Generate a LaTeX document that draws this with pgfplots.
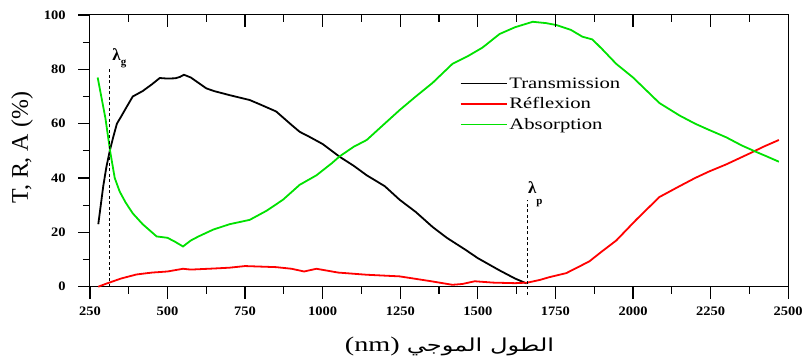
\documentclass[border=0pt]{standalone}
\usepackage{pgfplots}
\pgfplotsset{compat=1.18}
\usepackage{fontspec}
\setmainfont{Liberation Serif}
\newfontfamily\arabicfont[Script=Arabic]{DejaVu Sans}
\definecolor{mygreen}{RGB}{0,225,0}
\definecolor{myred}{RGB}{255,0,0}
\newcommand{\ticklab}[1]{\scalebox{1.12}[1]{\fontsize{13}{14}\selectfont\bfseries\pgfmathprintnumber[assume math mode=true,1000 sep={}]{#1}}}
\begin{document}
\begin{tikzpicture}
\begin{axis}[
  scale only axis, width=699bp, height=272bp,
  xmin=250, xmax=2500, ymin=0, ymax=100,
  xtick={250,500,...,2500}, ytick={0,20,...,100},
  minor x tick num=1, minor y tick num=1,
  tick pos=left, tick align=outside,
  major tick length=0.42cm, minor tick length=0.25cm,
  axis line style={line width=1bp},
  xtick style={draw=black, line width=1bp},
  ytick style={draw=black, line width=1bp},
  xticklabel={\ticklab{\tick}},
  yticklabel={\ticklab{\tick}},
  xticklabel style={yshift=-5bp},
  yticklabel style={xshift=-9bp},
  clip=false,
  xlabel={\scalebox{1.35}[1]{\fontsize{21}{22}\selectfont (nm) {\TeXXeTstate=1 \arabicfont\fontsize{18}{22}\selectfont\beginR الطول الموجي\endR}}},
  every axis x label/.style={at={(rel axis cs:0.515,-0.22)}, anchor=center},
  ylabel={\fontsize{24}{26}\selectfont T, R, A (\%)},
  every axis y label/.style={at={(rel axis cs:-0.097,0.511)}, anchor=center, rotate=90},
  legend style={at={(rel axis cs:0.525,0.785)}, anchor=north west, draw=none, fill=none,
    font=\fontsize{16}{16}\selectfont, row sep=4bp, cells={anchor=west}},
  legend image code/.code={\draw[#1] (0bp,0bp) -- (46bp,0bp);},
]
\addplot[black, line width=1.8bp] coordinates {
(277,23) (285,30) (293,37) (303,44) (314,50) (325,55) (337,60) (350,62.5) (365,65.5) (388,70)
(420,72) (450,74.5) (475,76.8) (500,76.6) (525,76.7) (540,77.2) (553,78) (575,77) (600,75)
(625,73) (650,72) (700,70.5) (765,68.7) (800,67) (850,64.5) (900,59.5) (926,57)
(960,55) (1000,52.5) (1055,47.8) (1100,44.5) (1142,41) (1200,37) (1248,32) (1300,27.5)
(1354,22) (1400,18) (1460,13.6) (1500,10.5) (1570,6) (1620,3) (1657,1.2)
};
\addlegendentry{\scalebox{1.3}[1]{Transmission}}
\addplot[myred, line width=1.8bp] coordinates {
(277,0) (300,1) (350,3) (400,4.5) (450,5.2) (500,5.6) (550,6.6) (575,6.3) (650,6.7) (700,7)
(750,7.6) (800,7.4) (850,7.2) (900,6.6) (940,5.6) (980,6.6) (1000,6.2) (1050,5.2)
(1142,4.4) (1248,3.8) (1350,2) (1418,0.7) (1450,1) (1490,2) (1550,1.5) (1620,1.3)
(1660,1.5) (1700,2.5) (1730,3.5) (1785,5) (1859,9.3) (1900,13) (1946,17) (2010,24.6)
(2085,33) (2150,37) (2200,40) (2245,42.4) (2300,45) (2375,49) (2420,51.5) (2470,54)
};
\addlegendentry{\scalebox{1.3}[1]{Réflexion}}
\addplot[mygreen, line width=1.8bp] coordinates {
(275,77) (290,68) (300,62) (315,50) (330,40) (346,35) (365,31) (388,27) (420,23)
(465,18.5) (500,18) (525,16.5) (550,14.8) (575,17) (600,18.5) (647,21) (700,23)
(765,24.6) (820,28) (872,32) (926,37.5) (980,41) (1030,45.5) (1055,48) (1100,51.5)
(1142,54) (1190,59) (1248,65) (1300,70) (1354,75) (1418,82) (1470,85) (1515,88)
(1570,93) (1620,95.5) (1677,97.5) (1720,97) (1753,96.3) (1800,94.5) (1837,92) (1869,91)
(1900,87.5) (1946,82) (2000,77) (2085,67.6) (2150,63) (2200,60) (2245,57.7) (2300,55)
(2350,52) (2397,49.6) (2430,48) (2470,46)
};
\addlegendentry{\scalebox{1.3}[1]{Absorption}}
\addplot[black, line width=1bp, dash pattern=on 3bp off 2.5bp, forget plot] coordinates {(312,0) (312,80)};
\addplot[black, line width=1bp, dash pattern=on 3bp off 2.5bp, forget plot] coordinates {(1660,-3) (1660,32)};
% tick marks, one segment each
\pgfplotsinvokeforeach{250,500,...,2500}{\addplot[black, line width=1.2bp, forget plot] coordinates {(#1,0) (#1,-4.41)};}
\pgfplotsinvokeforeach{375,625,...,2375}{\addplot[black, line width=1.2bp, forget plot] coordinates {(#1,0) (#1,-2.6)};}
\pgfplotsinvokeforeach{500,750,...,2250}{\addplot[black, line width=1.2bp, forget plot] coordinates {(#1,100) (#1,95.6)};}
\pgfplotsinvokeforeach{375,625,...,2375}{\addplot[black, line width=1.2bp, forget plot] coordinates {(#1,100) (#1,97.4)};}
\pgfplotsinvokeforeach{0,20,...,100}{\addplot[black, line width=1.2bp, forget plot] coordinates {(250,#1) (211.4,#1)};}
\pgfplotsinvokeforeach{10,30,...,90}{\addplot[black, line width=1.2bp, forget plot] coordinates {(250,#1) (227.5,#1)};}
\node[font=\fontsize{17}{17}\selectfont\bfseries] at (axis cs:345,84) {λ\raisebox{-0.6ex}{\fontsize{11}{11}\selectfont g}};
\node[font=\fontsize{17}{17}\selectfont\bfseries] at (axis cs:1685,34) {λ\raisebox{-1.4ex}{\fontsize{11}{11}\selectfont p}};
\end{axis}
\path[use as bounding box] (-90bp,-76bp) rectangle (716bp,287bp);
\end{tikzpicture}
\end{document}
